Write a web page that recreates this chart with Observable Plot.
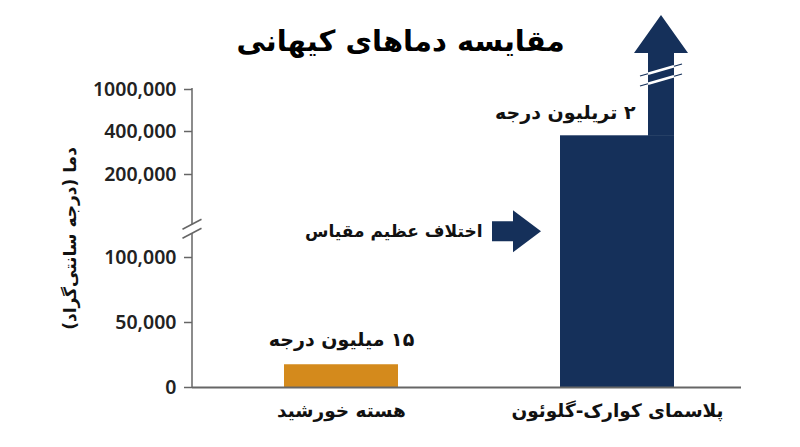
<!DOCTYPE html>
<html><head><meta charset="utf-8">
<script src="https://cdn.jsdelivr.net/npm/d3@7"></script>
<script src="https://cdn.jsdelivr.net/npm/@observablehq/plot@0.6"></script>
<style>
html,body{margin:0;padding:0;background:#fff}
svg{display:block}
</style>
</head><body><div id="chart"></div>
<script>
const RLM = "\u200F";
const title = "مقایسه دماهای کیهانی";
const yLabel = "دما (درجه سانتی‌گراد)";
const annotation = "اختلاف عظیم مقیاس";
const categories = ["هسته خورشید", "پلاسمای کوارک-گلوئون"];
// drawn heights on the broken axis (true values: 15 million, 2 trillion)
const displayValues = [17500, 380000];
const valueLabels = ["۱۵ میلیون درجه", "۲ تریلیون درجه"];
const colors = ["#D48A1C", "#15305A"];
const yTicks = [0, 50000, 100000, 200000, 400000, 1000000];
const yTickLabels = ["0", "50,000", "100,000", "200,000", "400,000", "1000,000"];
const yDomain = [0, 100000, 200000, 400000, 1000000];
const breakValue = 134000;
const annotationValue = 131000;

const rows = categories.map((c, i) => ({category: c, value: displayValues[i], label: RLM + valueLabels[i] + RLM, color: colors[i]}));

const arabicFont = "'DejaVu Sans', sans-serif";
const axisGray = "#666";

function decorations(index, scales, values, dimensions) {
  const {x, y} = scales;
  const bw = x.bandwidth();
  const g = d3.create("svg:g");
  const ax = dimensions.marginLeft;
  const yb = y(breakValue);
  // axis line with break
  g.append("line").attr("x1", ax).attr("x2", ax)
    .attr("y1", y(yDomain[yDomain.length - 1]) - 1).attr("y2", yb - 4.5)
    .attr("stroke", axisGray).attr("stroke-width", 1.5);
  g.append("line").attr("x1", ax).attr("x2", ax)
    .attr("y1", yb + 4.5).attr("y2", y(0))
    .attr("stroke", axisGray).attr("stroke-width", 1.5);
  for (const o of [-4.5, 4.5]) {
    g.append("line")
      .attr("x1", ax - 9.5).attr("y1", yb + o + 5)
      .attr("x2", ax + 9.5).attr("y2", yb + o - 5)
      .attr("stroke", axisGray).attr("stroke-width", 1.5);
  }
  // shaft + arrowhead above the quark bar
  const navy = colors[1];
  const qx = x(categories[1]);
  const qr = qx + bw;
  const top = y(displayValues[1]);
  const sw = 26, hw = 54;
  const cx = qr - sw / 2;
  const headBase = dimensions.marginTop - 36;
  const tip = dimensions.marginTop - 74;
  g.append("path")
    .attr("d", `M${qr - sw},${top + 0.5}L${qr - sw},${headBase}L${cx - hw / 2},${headBase}L${cx},${tip}L${cx + hw / 2},${headBase}L${qr},${headBase}L${qr},${top + 0.5}Z`)
    .attr("fill", navy);
  const bc = dimensions.marginTop - 14;
  for (const o of [-5, 5]) {
    const yc = bc + o;
    g.append("line")
      .attr("x1", cx - 21).attr("y1", yc + 6).attr("x2", cx + 21).attr("y2", yc - 6)
      .attr("stroke", navy).attr("stroke-width", 1.3);
    const k = (sw / 2) * 6 / 21;
    g.append("line")
      .attr("x1", cx - sw / 2).attr("y1", yc + k).attr("x2", cx + sw / 2).attr("y2", yc - k)
      .attr("stroke", "#fff").attr("stroke-width", 2.6);
  }
  // annotation arrow pointing at the quark bar
  const ya = y(annotationValue);
  const atip = qx - 19;
  const hl = 28, hh = 21, sl = 21, sh = 10;
  g.append("path")
    .attr("d", `M${atip - hl - sl},${ya - sh}L${atip - hl},${ya - sh}L${atip - hl},${ya - hh}L${atip},${ya}L${atip - hl},${ya + hh}L${atip - hl},${ya + sh}L${atip - hl - sl},${ya + sh}Z`)
    .attr("fill", navy);
  return g.node();
}

const chart = Plot.plot({
  width: 800,
  height: 447,
  marginLeft: 192,
  marginRight: 59,
  marginTop: 89,
  marginBottom: 60,
  style: {fontFamily: "'Noto Sans', sans-serif", background: "#fff", color: "#222"},
  x: {type: "band", domain: categories, paddingInner: 0.587, paddingOuter: 0.288, align: 0.579, axis: null},
  y: {type: "linear", domain: yDomain, range: [387, 257, 174, 131, 89], axis: null},
  marks: [
    Plot.barY(rows, {x: "category", y: "value", fill: "color"}),
    Plot.ruleY([0], {stroke: axisGray, strokeWidth: 2}),
    Plot.axisY({ticks: yTicks, tickFormat: d => yTickLabels[yTicks.indexOf(d)], tickSize: 8, tickPadding: 8, fontSize: 19.5, fontWeight: 600, stroke: axisGray, strokeWidth: 1.5, fill: "#222", label: null}),
    decorations,
    Plot.text(rows, {x: "category", y: 0, text: d => RLM + d.category + RLM, dy: 24, fontSize: 18.5, fontWeight: "bold", fill: "#111", fontFamily: arabicFont}),
    Plot.text([rows[0]], {x: "category", y: "value", text: "label", dy: -25, fontSize: 19, fontWeight: "bold", fill: "#111", fontFamily: arabicFont}),
    Plot.text([rows[1]], {x: "category", y: "value", text: "label", dx: 18, dy: -23, textAnchor: "end", fontSize: 19, fontWeight: "bold", fill: "#111", fontFamily: arabicFont}),
    Plot.text([annotation], {x: () => categories[1], y: () => annotationValue, text: d => RLM + d + RLM, dx: -135, textAnchor: "end", fontSize: 17, fontWeight: "bold", fill: "#111", fontFamily: arabicFont}),
    Plot.text([yLabel], {frameAnchor: "left", text: d => RLM + d + RLM, rotate: -90, dx: -122, textAnchor: "middle", lineAnchor: "middle", fontSize: 17, fontWeight: "bold", fill: "#111", fontFamily: arabicFont}),
    Plot.text([title], {frameAnchor: "top-left", text: d => RLM + d + RLM, dx: 208, dy: -48, textAnchor: "middle", lineAnchor: "middle", fontSize: 29, fontWeight: "bold", fill: "#000", fontFamily: arabicFont})
  ]
});
document.getElementById("chart").appendChild(chart);
</script>
</body></html>
